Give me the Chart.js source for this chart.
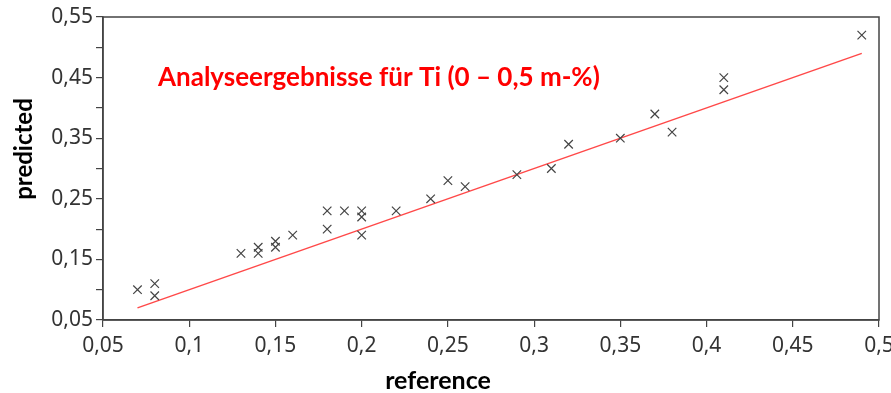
<!DOCTYPE html>
<html lang="de">
<head>
  <meta charset="UTF-8">
  <title>Analyseergebnisse Ti</title>
  <script src="https://cdn.jsdelivr.net/npm/chart.js"></script>
  <style>
    html, body { margin: 0; padding: 0; background: #fff; }
    #wrap { width: 891px; height: 393px; position: relative; }
  </style>
</head>
<body>
  <div id="wrap"><canvas id="tiChart"></canvas></div>

  <script>
    // messwerte (reference / predicted)
    var referenceVals = [0.07, 0.08, 0.08, 0.13, 0.14, 0.14, 0.15, 0.15, 0.16, 0.18, 0.18, 0.19,
                         0.20, 0.20, 0.20, 0.22, 0.24, 0.25, 0.26, 0.29, 0.31, 0.32, 0.35, 0.37,
                         0.38, 0.41, 0.41, 0.49];
    var predictedVals = [0.10, 0.11, 0.09, 0.16, 0.17, 0.16, 0.18, 0.17, 0.19, 0.23, 0.20, 0.23,
                         0.23, 0.22, 0.19, 0.23, 0.25, 0.28, 0.27, 0.29, 0.30, 0.34, 0.35, 0.39,
                         0.36, 0.45, 0.43, 0.52];

    // regressionsgerade
    var fitX = [0.07, 0.49];
    var fitY = [0.07, 0.49];

    var chartTitle = 'Analyseergebnisse für Ti (0 – 0,5 m-%)';
    var xTitle = 'reference';
    var yTitle = 'predicted';

    function fmt(v) {
      return (Math.round(v * 100) / 100).toString().replace('.', ',');
    }

    var tickFont = { family: 'Noto Sans', size: 21 };
    var tickColor = '#333';

    // rahmen, titel und achsentitel
    var framePlugin = {
      id: 'frame',
      afterDraw: function(chart) {
        var ctx = chart.ctx, a = chart.chartArea;
        ctx.save();
        ctx.strokeStyle = '#444';
        ctx.lineWidth = 1.5;
        ctx.strokeRect(a.left, a.top, a.right - a.left, a.bottom - a.top);

        ctx.fillStyle = '#ff0000';
        ctx.font = 'bold 26px Lato';
        ctx.textBaseline = 'middle';
        ctx.textAlign = 'left';
        ctx.fillText(chartTitle, a.left + 55, a.top + 61);

        ctx.fillStyle = '#000';
        ctx.font = 'bold 25px Lato';
        ctx.textAlign = 'center';
        ctx.fillText(xTitle, a.left + 335, 381);

        ctx.translate(24, 149);
        ctx.rotate(-Math.PI / 2);
        ctx.font = 'bold 24px Lato';
        ctx.fillText(yTitle, 0, 0);
        ctx.restore();
      }
    };

    var ctx = document.getElementById('tiChart').getContext('2d');
    var tiChart = new Chart(ctx, {
      type: 'scatter',
      data: {
        datasets: [{
          label: 'Ti',
          data: referenceVals.map(function(x, i) { return { x: x, y: predictedVals[i] }; }),
          pointStyle: 'crossRot',
          pointRadius: 6,
          pointBorderWidth: 1.2,
          borderColor: '#444',
          backgroundColor: '#444',
          order: 1
        }, {
          type: 'line',
          label: 'fit',
          data: fitX.map(function(x, i) { return { x: x, y: fitY[i] }; }),
          borderColor: 'rgba(255, 40, 40, 0.85)',
          borderWidth: 1.5,
          pointRadius: 0,
          fill: false,
          order: 2
        }]
      },
      options: {
        responsive: true,
        maintainAspectRatio: false,
        animation: false,
        layout: { padding: { top: 17, right: 12, left: 0, bottom: 0 } },
        plugins: {
          legend: { display: false },
          tooltip: { enabled: false }
        },
        scales: {
          x: {
            type: 'linear',
            min: 0.05,
            max: 0.5,
            afterFit: function(s) { s.height = 73; s.paddingRight = 0; s.paddingLeft = 0; },
            ticks: {
              stepSize: 0.05,
              font: tickFont,
              color: tickColor,
              padding: 6,
              maxRotation: 0,
              callback: function(v) { return fmt(v); }
            },
            grid: { drawOnChartArea: false, drawTicks: true, tickLength: 7, color: '#444', lineWidth: 1.2 },
            border: { color: '#444', width: 1.5 }
          },
          y: {
            type: 'linear',
            min: 0.05,
            max: 0.55,
            afterFit: function(s) { s.width = 103; s.paddingTop = 0; s.paddingBottom = 0; },
            ticks: {
              stepSize: 0.05,
              font: tickFont,
              color: tickColor,
              padding: 3,
              callback: function(v, i) { return i % 2 === 0 ? fmt(v).padEnd(4, '0') : ''; }
            },
            grid: { drawOnChartArea: false, drawTicks: true, tickLength: 7, color: '#444', lineWidth: 1.2 },
            border: { color: '#444', width: 1.5 }
          }
        }
      },
      plugins: [framePlugin]
    });
  </script>
</body>
</html>
